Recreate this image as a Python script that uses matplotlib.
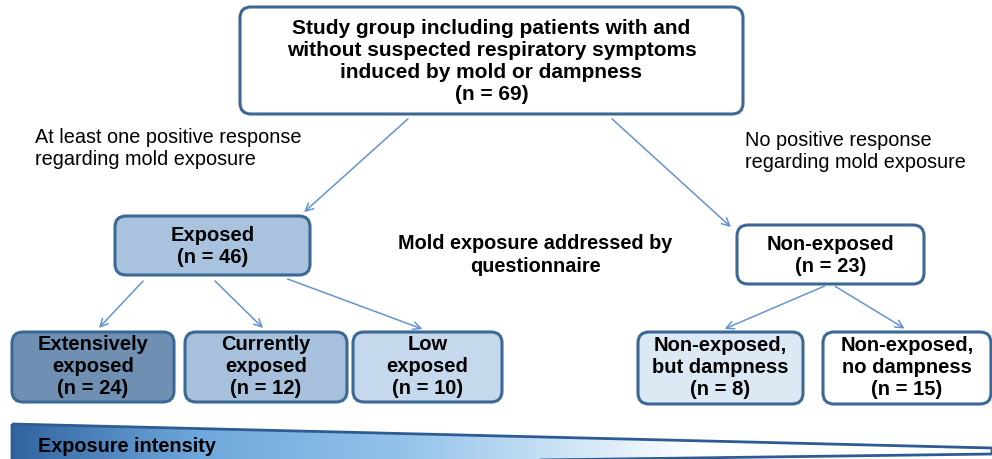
import numpy as np
import matplotlib.pyplot as plt
from matplotlib.patches import FancyBboxPatch, Polygon
from matplotlib.colors import LinearSegmentedColormap

plt.rcParams['font.family'] = ['Liberation Sans', 'DejaVu Sans']

# group labels and sizes
top_label = "Study group including patients with and\nwithout suspected respiratory symptoms\ninduced by mold or dampness"
top_n = 69
mid_labels = ["Exposed", "Non-exposed"]
mid_n = [46, 23]
exp_labels = ["Extensively\nexposed", "Currently\nexposed", "Low\nexposed"]
exp_n = [24, 12, 10]
non_labels = ["Non-exposed,\nbut dampness", "Non-exposed,\nno dampness"]
non_n = [8, 15]

# layout (pixel coords, y down)
top_box = (240, 8, 743, 115)
mid_boxes = [(115, 217, 310, 276), (737, 226, 924, 285)]
exp_boxes = [(12, 333, 174, 403), (185, 333, 347, 403), (353, 333, 502, 403)]
non_boxes = [(638, 333, 803, 405), (823, 333, 991, 405)]
mid_fill = ["#a9c2de", "white"]
exp_fill = ["#6f8fb3", "#a7c0dc", "#c6d8eb"]
non_fill = ["#dce8f4", "white"]
edge = "#3b6894"
arrow_c = "#6494cf"

fig = plt.figure(figsize=(9.92, 4.6), dpi=100)
ax = fig.add_axes([0, 0, 1, 1])
ax.set_xlim(0, 992)
ax.set_ylim(460, 0)
ax.axis('off')


def box(b, fill, text, fs=14.5, ls=1.2, dy=-1):
    x0, y0, x1, y1 = b
    p = FancyBboxPatch((x0, y0), x1 - x0, y1 - y0,
                       boxstyle="round,pad=0,rounding_size=11",
                       fc=fill, ec=edge, lw=2.2, zorder=2)
    ax.add_patch(p)
    ax.text((x0 + x1) / 2, (y0 + y1) / 2 + dy, text, ha='center', va='center',
            fontsize=fs, fontweight='bold', linespacing=ls, zorder=3)


def arrow(x0, y0, x1, y1):
    ax.annotate("", xy=(x1, y1), xytext=(x0, y0),
                arrowprops=dict(arrowstyle="->", color=arrow_c, lw=1.1,
                                mutation_scale=14), zorder=1)


box(top_box, "white", top_label + f"\n(n = {top_n})", fs=15, ls=1.22, dy=0)
for b, f, l, n in zip(mid_boxes, mid_fill, mid_labels, mid_n):
    box(b, f, f"{l}\n(n = {n})", ls=1.2, dy=0)
for b, f, l, n in zip(exp_boxes, exp_fill, exp_labels, exp_n):
    box(b, f, f"{l}\n(n = {n})")
for b, f, l, n in zip(non_boxes, non_fill, non_labels, non_n):
    box(b, f, f"{l}\n(n = {n})")

arrow(410, 118, 302, 215)
arrow(610, 118, 733, 230)
arrow(145, 280, 97, 331)
arrow(213, 280, 265, 331)
arrow(285, 279, 425, 331)
arrow(827, 286, 722, 331)
arrow(833, 286, 907, 331)

ax.text(35, 149, "At least one positive response\nregarding mold exposure",
        ha='left', va='center', fontsize=14.3, linespacing=1.2)
ax.text(745, 152, "No positive response\nregarding mold exposure",
        ha='left', va='center', fontsize=14.3, linespacing=1.2)
ax.text(535, 255, "Mold exposure addressed by\nquestionnaire",
        ha='center', va='center', fontsize=14.3, fontweight='bold', linespacing=1.2)

# exposure intensity wedge
cmap = LinearSegmentedColormap.from_list("wedge", [(0, "#3264a0"), (0.19, "#6fa8dc"),
                                                   (0.40, "#93c3ea"), (0.55, "#c8e0f4"),
                                                   (0.70, "#ffffff"), (1, "#ffffff")])
grad = np.linspace(0, 1, 256).reshape(1, -1)
wedge = Polygon([(12, 425), (992, 449), (992, 455), (12, 468)], closed=True,
                fc='none', ec="#2e5c92", lw=2, zorder=3)
ax.add_patch(wedge)
im = ax.imshow(grad, cmap=cmap, extent=[12, 992, 468, 424], aspect='auto', zorder=2)
im.set_clip_path(wedge)
ax.set_xlim(0, 992)
ax.set_ylim(460, 0)
ax.text(38, 447, "Exposure intensity", ha='left', va='center', fontsize=14.3,
        fontweight='bold', zorder=4)

fig.savefig("out.png", dpi=100)
